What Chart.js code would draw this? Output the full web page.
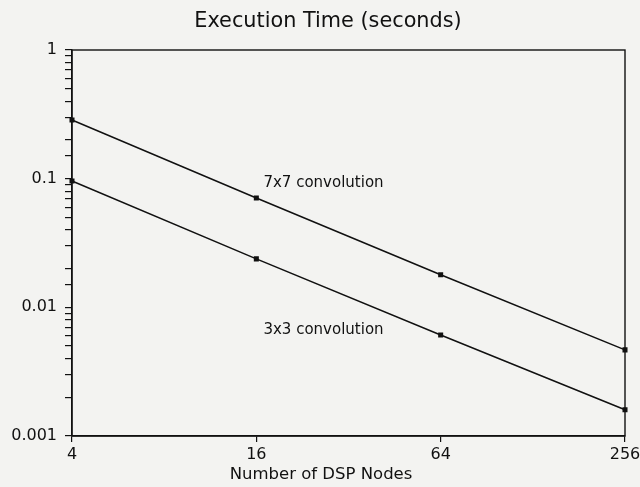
<!DOCTYPE html>
<html>
<head>
<meta charset="utf-8">
<script src="https://cdn.jsdelivr.net/npm/chart.js@4/dist/chart.umd.min.js"></script>
<style>
html,body{margin:0;padding:0;background:#f3f3f1;}
#wrap{width:640px;height:487px;}
</style>
</head>
<body>
<div id="wrap"><canvas id="c" width="640" height="487"></canvas></div>
<script>
const nodes = ['4', '16', '64', '256'];
const conv7x7 = [0.286, 0.0708, 0.0179, 0.00467];
const conv3x3 = [0.096, 0.0238, 0.0061, 0.0016];
const yDecades = [0.001, 0.01, 0.1, 1];
const seriesNames = ['7x7 convolution', '3x3 convolution'];
const chartTitle = 'Execution Time (seconds)';
const xTitle = 'Number of DSP Nodes';

const FONT = '"DejaVu Sans", "Liberation Sans", sans-serif';

const frame = {
  id: 'frame',
  afterDatasetsDraw(chart) {
    const {ctx, chartArea: a, scales} = chart;
    ctx.save();
    ctx.strokeStyle = '#111';
    ctx.lineWidth = 1.4;
    ctx.strokeRect(a.left, a.top, a.right - a.left, a.bottom - a.top);
    ctx.fillStyle = '#111';
    ctx.font = '15px ' + FONT;
    ctx.textAlign = 'center';
    ctx.textBaseline = 'middle';
    const xm = (scales.x.getPixelForValue(1) + scales.x.getPixelForValue(2)) / 2;
    ctx.fillText(seriesNames[0], xm - 25, scales.y.getPixelForValue(0.093));
    ctx.fillText(seriesNames[1], xm - 25, scales.y.getPixelForValue(0.0067));
    ctx.font = '16.5px ' + FONT;
    ctx.fillText(xTitle, 321, 475);
    ctx.font = '20.8px ' + FONT;
    ctx.fillText(chartTitle, 328, 22);
    ctx.restore();
  }
};

new Chart(document.getElementById('c'), {
  type: 'line',
  data: {
    labels: nodes,
    datasets: [
      {label: seriesNames[0], data: conv7x7, borderColor: '#111', backgroundColor: '#111',
       borderWidth: 1.5, pointRadius: 2.5, pointStyle: 'rect', tension: 0},
      {label: seriesNames[1], data: conv3x3, borderColor: '#111', backgroundColor: '#111',
       borderWidth: 1.5, pointRadius: 2.5, pointStyle: 'rect', tension: 0}
    ]
  },
  options: {
    responsive: false,
    animation: false,
    layout: {padding: {left: 0, right: 0, top: 50, bottom: 0}},
    plugins: {
      legend: {display: false},
      tooltip: {enabled: false},
      title: {display: false}
    },
    scales: {
      x: {
        type: 'category',
        offset: false,
        grid: {display: true, drawOnChartArea: false, drawTicks: true, tickLength: 6, color: '#111', lineWidth: 1.2},
        border: {display: true, color: '#111', width: 1.4},
        ticks: {color: '#111', font: {family: FONT, size: 16}, padding: 3, maxRotation: 0},
        title: {display: false},
        afterFit(s) { s.height = 51; s.paddingRight = 15; }
      },
      y: {
        type: 'logarithmic',
        min: 0.001,
        max: 1,
        grid: {display: true, drawOnChartArea: false, drawTicks: true, tickLength: 7, color: '#111', lineWidth: 1.2},
        border: {display: true, color: '#111', width: 1.4},
        ticks: {
          color: '#111', font: {family: FONT, size: 16}, padding: 8, autoSkip: false,
          callback(v) {
            for (const d of yDecades) { if (Math.abs(v - d) / d < 1e-6) return String(d); }
            return '';
          }
        },
        afterFit(s) { s.width = 72; }
      }
    }
  },
  plugins: [frame]
});
</script>
</body>
</html>
